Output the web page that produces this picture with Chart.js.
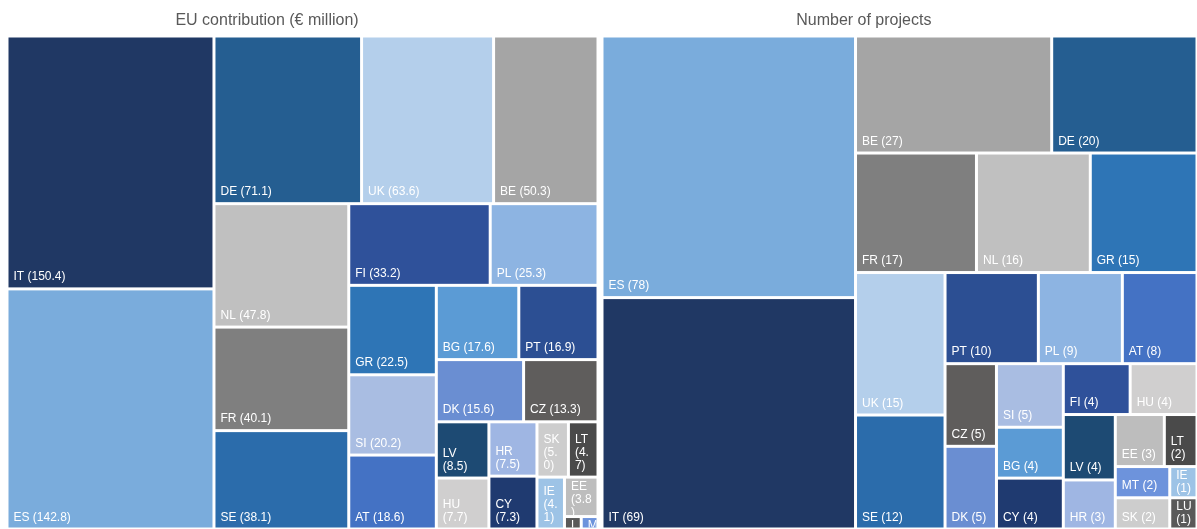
<!DOCTYPE html>
<html>
<head>
<meta charset="utf-8">
<script src="https://cdn.jsdelivr.net/npm/chart.js@4.4.1/dist/chart.umd.min.js"></script>
<style>
    body { margin: 0; background: #ffffff; }
    .wrap { display: flex; width: 1197px; height: 529px; }
    .box { position: relative; height: 529px; }
</style>
</head>
<body>
<div class="wrap">
    <div class="box" style="width:600px"><canvas id="euChart"></canvas></div>
    <div class="box" style="width:597px"><canvas id="projChart"></canvas></div>
</div>
<script>
// EU contribution per country, € million
const euCountries = ["IT", "ES", "DE", "UK", "BE", "NL", "FR", "SE", "FI", "PL", "GR", "SI", "AT", "BG",
    "PT", "DK", "CZ", "LV", "HU", "HR", "CY", "SK", "LT", "IE", "EE", "LU", "MT"];
const euValues = [150.4, 142.8, 71.1, 63.6, 50.3, 47.8, 40.1, 38.1, 33.2, 25.3, 22.5, 20.2, 18.6, 17.6,
    16.9, 15.6, 13.3, 8.5, 7.7, 7.5, 7.3, 5.0, 4.7, 4.1, 3.8, 0.6, 0.6];
// how many countries go in each strip of the treemap
const euStrips = [2, 3, 3, 2, 3, 2, 2, 2, 2, 2, 1, 1, 2];

// number of projects per country
const projCountries = ["ES", "IT", "BE", "DE", "FR", "NL", "GR", "UK", "SE", "PT", "PL", "AT", "CZ", "DK",
    "SI", "BG", "CY", "FI", "HU", "LV", "HR", "EE", "LT", "MT", "SK", "IE", "LU"];
const projValues = [78, 69, 27, 20, 17, 16, 15, 15, 12, 10, 9, 8, 5, 5, 5, 4, 4, 4, 4, 4, 3, 3, 2, 2, 2, 1, 1];
const projStrips = [2, 2, 3, 2, 3, 2, 3, 2, 2, 2, 2, 2];

// same colour for a country in both charts
const countryColors = {
    IT: "#203864", ES: "#7aacdc", DE: "#255e91", UK: "#b4cfeb", BE: "#a5a5a5", NL: "#c0c0c0",
    FR: "#7f7f7f", SE: "#2b6cab", FI: "#2f519a", PL: "#8db4e2", GR: "#2e75b6", SI: "#a9bde2",
    AT: "#4472c4", BG: "#5b9bd5", PT: "#2c4f93", DK: "#6a8ed2", CZ: "#5f5d5c", LV: "#1d4a73",
    HU: "#d0cfcf", HR: "#9fb6e3", CY: "#1f3a70", SK: "#cdcdcd", LT: "#4a4a4a", IE: "#9dc3e6",
    EE: "#bdbdbd", LU: "#595959", MT: "#6d93dc"
};

const sum = arr => arr.reduce((a, b) => a + b, 0);

// worst aspect ratio of a strip laid along `side`
function worst(row, side) {
    const s = sum(row);
    return Math.max(side * side * Math.max(...row) / (s * s), s * s / (side * side * Math.min(...row)));
}

// strip treemap in a w x h box: each strip is laid along the shorter side,
// the last one along whichever side keeps its cells squarer
function stripLayout(values, strips, w, h) {
    const total = sum(values);
    const areas = values.map(v => v / total * w * h);
    const rects = [];
    let x = 0, y = 0, i = 0;
    strips.forEach((n, k) => {
        const row = areas.slice(i, i + n);
        i += n;
        const s = sum(row);
        let column = w >= h;
        if (k === strips.length - 1) column = worst(row, h) <= worst(row, w);
        if (column) {
            const cw = s / h;
            let cy = y;
            row.forEach(a => { rects.push({ x0: x, y0: cy, x1: x + cw, y1: cy + a / cw }); cy += a / cw; });
            x += cw; w -= cw;
        } else {
            const rh = s / w;
            let cx = x;
            row.forEach(a => { rects.push({ x0: cx, y0: y, x1: cx + a / rh, y1: y + rh }); cx += a / rh; });
            y += rh; h -= rh;
        }
    });
    return rects;
}

// split a label so it fits a narrow cell
function fitLines(ctx, text, maxW) {
    if (ctx.measureText(text).width <= maxW) return [text];
    const lines = [];
    text.split(" ").forEach(word => {
        let cur = "";
        for (const ch of word) {
            if (cur && ctx.measureText(cur + ch).width > maxW) { lines.push(cur); cur = ch; }
            else cur += ch;
        }
        lines.push(cur);
    });
    return lines;
}

const treemapPlugin = {
    id: "treemapCells",
    afterDatasetsDraw(chart, args, opts) {
        const { ctx, chartArea, scales } = chart;
        const W = chartArea.width, H = chartArea.height;
        const rects = stripLayout(opts.values, opts.strips, W, H);
        const gap = 1.5;
        const lineH = 13;
        ctx.save();
        rects.forEach((r, i) => {
            // layout units -> scale values (0..1) -> pixels
            const left = scales.x.getPixelForValue(r.x0 / W) + gap;
            const right = scales.x.getPixelForValue(r.x1 / W) - gap;
            const top = scales.y.getPixelForValue(r.y0 / H) + gap;
            const bottom = scales.y.getPixelForValue(r.y1 / H) - gap;
            const name = opts.labels[i];
            ctx.fillStyle = countryColors[name];
            ctx.fillRect(left, top, right - left, bottom - top);

            const text = name + " (" + opts.format(opts.values[i]) + ")";
            ctx.save();
            ctx.beginPath();
            ctx.rect(left, top, right - left, bottom - top);
            ctx.clip();
            ctx.font = '12px "Liberation Sans", Arial, sans-serif';
            ctx.fillStyle = "#ffffff";
            ctx.textAlign = "left";
            ctx.textBaseline = "alphabetic";
            const lines = fitLines(ctx, text, Math.max(right - left - 8, 4));
            // bottom-aligned when it fits, otherwise start from the top edge
            let ty = bottom - 7 - (lines.length - 1) * lineH;
            if (ty - 10 < top) ty = top + 11;
            lines.forEach(line => {
                ctx.fillText(line, left + 5, ty);
                ty += lineH;
            });
            ctx.restore();
        });
        ctx.restore();
    }
};

const headingPlugin = {
    id: "heading",
    afterDraw(chart, args, opts) {
        const { ctx, chartArea } = chart;
        ctx.save();
        ctx.font = '16px "Liberation Sans", Arial, sans-serif';
        ctx.fillStyle = "#595959";
        ctx.textAlign = "center";
        ctx.fillText(opts.text, chartArea.left + chartArea.width * opts.at, 25);
        ctx.restore();
    }
};

function makeTreemap(id, labels, values, strips, format, title, padding) {
    return new Chart(id, {
        type: "scatter",
        data: { datasets: [{ data: [] }] },
        options: {
            responsive: true,
            maintainAspectRatio: false,
            animation: false,
            events: [],
            layout: { padding: padding },
            scales: {
                x: { type: "linear", min: 0, max: 1, display: false },
                y: { type: "linear", min: 0, max: 1, reverse: true, display: false }
            },
            plugins: {
                legend: { display: false },
                tooltip: { enabled: false },
                treemapCells: { labels: labels, values: values, strips: strips, format: format },
                heading: { text: title, at: 0.44 }
            }
        },
        plugins: [treemapPlugin, headingPlugin]
    });
}

makeTreemap("euChart", euCountries, euValues, euStrips, v => v.toFixed(1),
    "EU contribution (€ million)", { top: 36, left: 7, right: 2, bottom: 0 });
makeTreemap("projChart", projCountries, projValues, projStrips, v => String(v),
    "Number of projects", { top: 36, left: 2, right: 0, bottom: 0 });
</script>
</body>
</html>
